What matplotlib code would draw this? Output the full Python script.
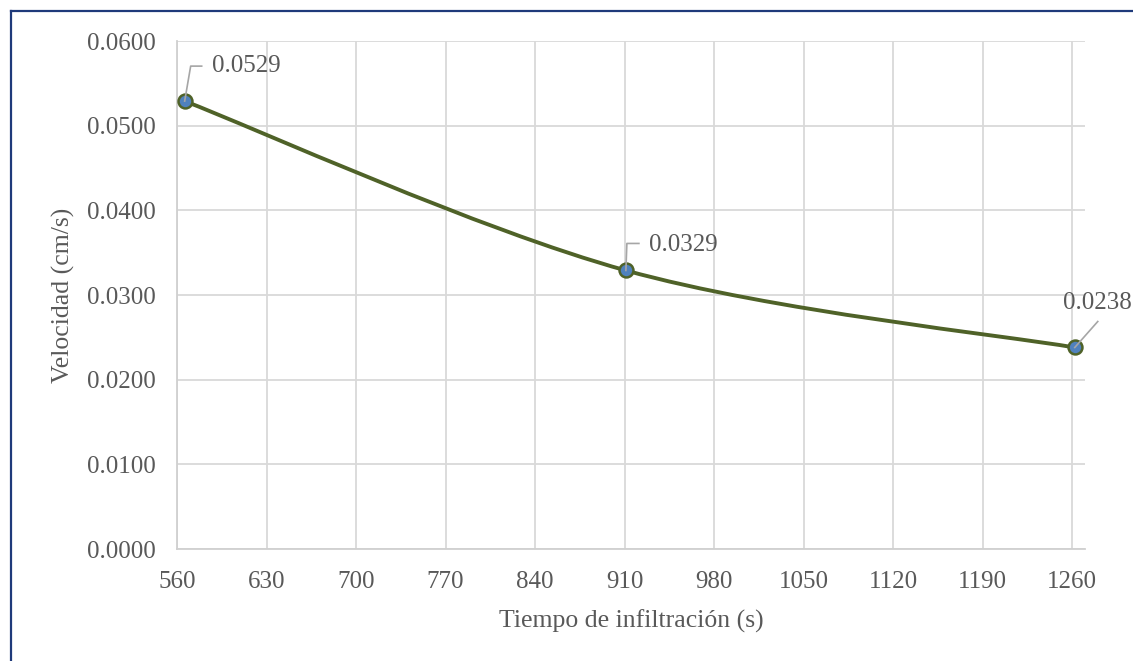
import matplotlib.pyplot as plt
from matplotlib.path import Path
from matplotlib.patches import PathPatch
from matplotlib.lines import Line2D

# Datos
tiempo = [566, 911, 1262]
velocidad = [0.0529, 0.0329, 0.0238]
etiquetas = ["0.0529", "0.0329", "0.0238"]

x_ticks = [560, 630, 700, 770, 840, 910, 980, 1050, 1120, 1190, 1260]
y_ticks = [0.0, 0.01, 0.02, 0.03, 0.04, 0.05, 0.06]

texto = "#595959"
plt.rcParams['font.family'] = ['Liberation Serif', 'DejaVu Serif']

W, H = 1133, 661
fig = plt.figure(figsize=(W / 100, H / 100), dpi=100)
ax = fig.add_axes([177 / W, 1 - 549 / H, (1085 - 177) / W, (549 - 41) / H])

ax.set_xlim(560, 1270)
ax.set_ylim(0, 0.06)
ax.set_xticks(x_ticks)
ax.set_yticks(y_ticks)
ax.set_yticklabels([f"{v:.4f}" for v in y_ticks])
ax.grid(True, color="#D9D9D9", linewidth=1.3)
ax.set_axisbelow(True)
for lado in ["top", "right"]:
    ax.spines[lado].set_visible(False)
for lado in ["left", "bottom"]:
    ax.spines[lado].set_color("#D0D0D0")
    ax.spines[lado].set_linewidth(1.3)
ax.tick_params(length=0, labelsize=18, labelcolor=texto)
ax.tick_params(axis="x", pad=16)
ax.tick_params(axis="y", pad=15)

# Linea suavizada tipo Excel (Bezier a partir de los puntos)
pts = list(zip(tiempo, velocidad))
ext = [pts[0]] + pts + [pts[-1]]
verts = [pts[0]]
codes = [Path.MOVETO]
for i in range(1, len(ext) - 2):
    p0, p1, p2, p3 = ext[i - 1], ext[i], ext[i + 1], ext[i + 2]
    c1 = (p1[0] + (p2[0] - p0[0]) / 6, p1[1] + (p2[1] - p0[1]) / 6)
    c2 = (p2[0] - (p3[0] - p1[0]) / 6, p2[1] - (p3[1] - p1[1]) / 6)
    verts += [c1, c2, p2]
    codes += [Path.CURVE4] * 3
ax.add_patch(PathPatch(Path(verts, codes), facecolor="none", edgecolor="#4F6228",
                       linewidth=2.8, capstyle="round", zorder=3))

ax.plot(tiempo, velocidad, linestyle="none", marker="o", markersize=10,
        markerfacecolor="#4F81BD", markeredgecolor="#4F6228", markeredgewidth=1.8, zorder=4)

# Etiquetas de datos con lineas guia (desplazamientos en pixeles, y hacia arriba)
gris = "#A6A6A6"
guias = [[(0, 0), (6, 35), (17, 35)],
         [(0, 0), (1, 27), (13, 27)],
         [(0, 0), (23, 26)]]
pos_texto = [(27, 35, "left"), (23, 25, "left"), (23, 44, "center")]
for (x, y), et, guia, (tx, ty, ha) in zip(pts, etiquetas, guias, pos_texto):
    px, py = ax.transData.transform((x, y))
    xs = [(px + dx) / W for dx, dy in guia]
    ys = [(py + dy) / H for dx, dy in guia]
    fig.add_artist(Line2D(xs, ys, color=gris, lw=1.2, zorder=2))
    fig.text((px + tx) / W, (py + ty) / H, et, fontsize=18, color=texto,
             ha=ha, va="center")

ax.set_xlabel("Tiempo de infiltración (s)", fontsize=18.5, color=texto, labelpad=12)
ax.set_ylabel("Velocidad (cm/s)", fontsize=18.5, color=texto, labelpad=9)

# Marco
fig.add_artist(Line2D([11 / W, 11 / W], [0, 1 - 11 / H], color="#1F3A7A", lw=1.6))
fig.add_artist(Line2D([11 / W, 1], [1 - 11 / H, 1 - 11 / H], color="#1F3A7A", lw=1.6))

fig.savefig("out.png", dpi=100)
